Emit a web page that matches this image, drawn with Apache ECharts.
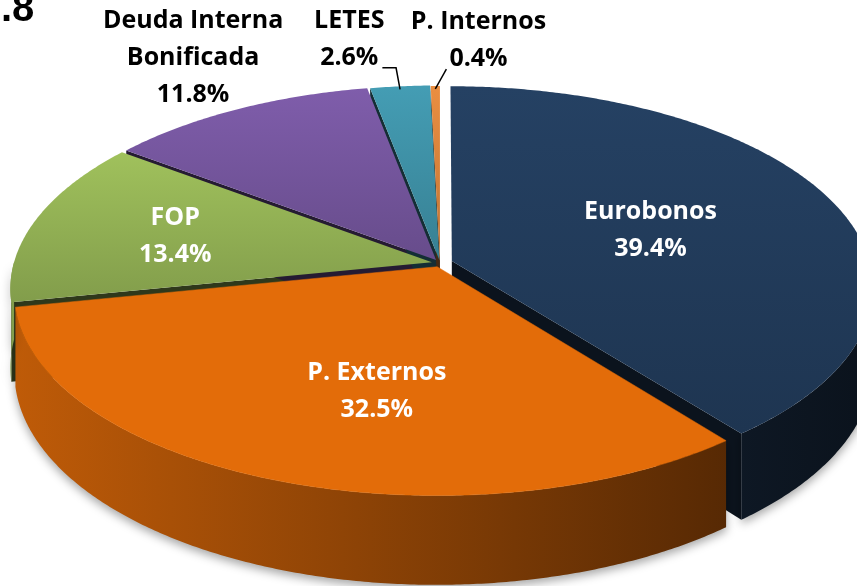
<!DOCTYPE html>
<html><head><meta charset="utf-8">
<script src="https://cdn.jsdelivr.net/npm/echarts@6/dist/echarts.min.js"></script>
<style>html,body{margin:0;padding:0;background:#fff;overflow:hidden}#c{width:857px;height:586px}</style>
</head><body><div id="c"></div>
<script>
// ---- data ----
const categories = ['Eurobonos', 'P. Externos', 'FOP', 'Deuda Interna Bonificada', 'LETES', 'P. Internos'];
const values = [39.4, 32.5, 13.4, 11.8, 2.6, 0.4];
const labelNames = [['Eurobonos'], ['P. Externos'], ['FOP'], ['Deuda Interna', 'Bonificada'], ['LETES'], ['P. Internos']];
const titleText = '.8';

// ---- styles / layout ----
const colors = ['#243F60', '#E36C09', '#9BBB59', '#7B5AA6', '#4298AF', '#E38A3F'];
const explode = [0.03, 0.02, 0.02, 0.018, 0.015, 0.012];
const insideLabel = [true, true, true, false, false, false];
const labelNudge = { 0: [-13, 4], 1: [25, 14], 2: [-36, -2], 3: [-9, -25], 4: [-44, -17], 5: [44, -15] };
const G = { cx: 440, cy: 263, A: 418, B: 198, p: 0.13, H: 77.5 };
const FONT_FAMILY = '"Open Sans"';
const FONT_SIZE = 25;
const LINE_H = 37;

const total = values.reduce((a, b) => a + b, 0);
const starts = [], ends = [];
let acc = 0;
values.forEach(v => { starts.push(acc / total * 360); acc += v; ends.push(acc / total * 360); });

function fmtPct(v) { return v.toFixed(1) + '%'; }
function shade(hex, f) {
  const n = parseInt(hex.slice(1), 16);
  const c = x => Math.min(255, Math.round(x * f));
  return 'rgb(' + c((n >> 16) & 255) + ',' + c((n >> 8) & 255) + ',' + c(n & 255) + ')';
}
function proj(X, Z, d) {
  const s = 1 / (1 + G.p * Z);
  return [G.cx + G.A * X * s, G.cy - G.B * Z * s + G.H * d * s];
}
const ctx = document.createElement('canvas').getContext('2d');
function textW(t) { ctx.font = 'bold ' + FONT_SIZE + 'px ' + FONT_FAMILY; return ctx.measureText(t).width; }

function renderItem(params, api) {
  const i = params.dataIndex;
  const v = api.value(0);
  const t0 = starts[i], t1 = ends[i];
  const mid = (t0 + t1) / 2 * Math.PI / 180;
  const e = explode[i];
  const P = (tDeg, r, d) => {
    const t = tDeg * Math.PI / 180;
    return proj(r * Math.sin(t) + e * Math.sin(mid), r * Math.cos(t) + e * Math.cos(mid), d);
  };
  const col = colors[i];
  const children = [];
  const N = Math.max(4, Math.ceil((t1 - t0) * 2));
  // top face
  const top = [P(0, 0, 0)];
  for (let k = 0; k <= N; k++) top.push(P(t0 + (t1 - t0) * k / N, 1, 0));
  const topFill = Math.cos(mid) > 0.2
    ? new echarts.graphic.LinearGradient(0, 0, 0, 1, [{ offset: 0, color: shade(col, 1.03) }, { offset: 1, color: shade(col, 0.84) }])
    : col;
  children.push({ type: 'polygon', shape: { points: top }, style: { fill: topFill, stroke: Math.cos(mid) > 0.2 ? null : col, lineWidth: 0.5 }, z2: 30 });
  // outer wall (front-facing part)
  const a = Math.max(t0, 90), b = Math.min(t1, 270);
  if (b > a) {
    const M = Math.max(4, Math.ceil((b - a) * 2));
    const pts = [];
    for (let k = 0; k <= M; k++) pts.push(P(a + (b - a) * k / M, 1, 0));
    for (let k = M; k >= 0; k--) pts.push(P(a + (b - a) * k / M, 1, 1));
    children.push({
      type: 'polygon', shape: { points: pts },
      style: {
        fill: new echarts.graphic.LinearGradient(0, 0, 857, 0, [
          { offset: 0, color: shade(col, 0.85) }, { offset: 1, color: shade(col, 0.3) }], true),
        shadowBlur: 10, shadowColor: 'rgba(0,0,0,0.35)', shadowOffsetY: 4
      },
      z2: 20
    });
  }
  // radial faces
  const face = t => [P(t, 0, 0), P(t, 1, 0), P(t, 1, 1), P(t, 0, 1)];
  const rad = x => x * Math.PI / 180;
  if (Math.sin(rad(t0)) < -1e-6) children.push({ type: 'polygon', shape: { points: face(t0) }, style: { fill: shade(col, 0.3) }, z2: 10 });
  if (Math.sin(rad(t1)) > 1e-6) children.push({ type: 'polygon', shape: { points: face(t1) }, style: { fill: shade(col, 0.3) }, z2: 10 });
  // labels
  const lines = labelNames[i].concat([fmtPct(v)]);
  const font = { fontFamily: FONT_FAMILY, fontWeight: 'bold', fontSize: FONT_SIZE };
  const base = insideLabel[i] ? P((t0 + t1) / 2, 0.55, 0) : P((t0 + t1) / 2, 1.2, 0);
  const n = labelNudge[i] || [0, 0];
  const c = [base[0] + n[0], base[1] + n[1]];
  const y0 = c[1] - (lines.length - 1) * LINE_H / 2;
  lines.forEach((ln, k) => {
    children.push({
      type: 'text', z2: 50,
      style: Object.assign({ text: ln, x: c[0], y: y0 + k * LINE_H, fill: insideLabel[i] ? '#fff' : '#000', align: 'center', verticalAlign: 'middle' }, font)
    });
  });
  // leader line for small outside slices
  if (!insideLabel[i] && (t1 - t0) < 20) {
    const rim = P((t0 + t1) / 2, 1, 0);
    const lastW = textW(lines[lines.length - 1]);
    const yb = y0 + (lines.length - 1) * LINE_H + 10;
    let pts;
    if (c[0] < rim[0]) {
      pts = [[rim[0], rim[1] + 3], [rim[0] - 4, yb], [c[0] + lastW / 2 + 4, yb]];
    } else {
      pts = [[rim[0], rim[1] + 3], [c[0] - lastW / 2 - 3, yb]];
    }
    children.push({ type: 'polyline', shape: { points: pts }, style: { stroke: '#000', lineWidth: 1.5, fill: null }, z2: 50 });
  }
  return { type: 'group', children };
}

const chart = echarts.init(document.getElementById('c'), null, { renderer: 'canvas' });
chart.setOption({
  animation: false,
  graphic: [{ type: 'text', left: 1, top: -10, style: { text: titleText, font: 'bold 40px "Liberation Sans"', fill: '#000' } }],
  series: [{
    type: 'custom',
    coordinateSystem: 'none',
    renderItem: renderItem,
    data: values.map((v, i) => ({ name: categories[i], value: [v] }))
  }]
});
</script></body></html>
